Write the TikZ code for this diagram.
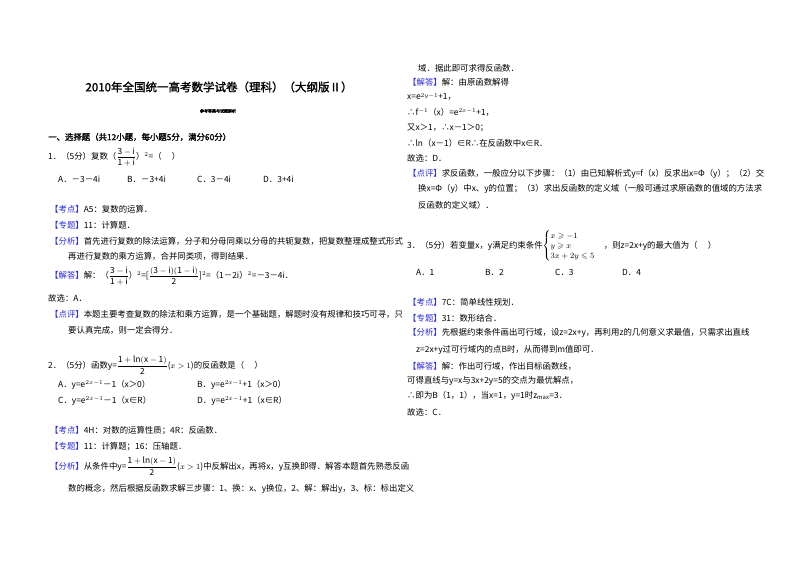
\documentclass[tikz,border=0pt]{standalone}
\usepackage{fontspec}
\usepackage{amsmath,amssymb}
\setmainfont{Noto Sans CJK SC}
\newfontfamily\cjkb[FakeBold=1.6]{Noto Sans CJK SC}
\definecolor{tagblue}{RGB}{40,40,230}
\newcommand\tg[1]{{\color{tagblue}【#1】}}
\newcommand\fr[2]{\ensuremath{\dfrac{\mathrm{#1}}{\mathrm{#2}}}}
\tikzset{ln/.style={anchor=west,inner sep=0pt,font=\fontsize{8.4}{10}\selectfont},
 ttl/.style={inner sep=0pt,font=\cjkb\fontsize{11.5}{13}\selectfont}}
\begin{document}
\begin{tikzpicture}[x=1pt,y=-1pt]
\useasboundingbox[fill=white] (0,0) rectangle (800,565);
% left column
\node[ttl] (t) at (219,87) {2010年全国统一高考数学试卷（理科）（大纲版Ⅱ）};
\node[inner sep=0pt,font=\cjkb\fontsize{4}{5}\selectfont] (st) at (218,111) {参考答案与试题解析};
\node[ln,font=\cjkb\fontsize{8.4}{10}\selectfont] (h1) at (48,137) {一、选择题（共12小题，每小题5分，满分60分）};
\node[ln] (q1) at (48,157) {1．（5分）复数（\fr{3-i}{1+i}）$^2$=（\quad\ ）};
\node[ln] (q1a) at (58,179) {A．－3－4i};
\node[ln] (q1b) at (127,179) {B．－3+4i};
\node[ln] (q1c) at (197,179) {C．3－4i};
\node[ln] (q1d) at (263,179) {D．3+4i};
\node[ln] (k1) at (50,209) {\tg{考点}A5：复数的运算．};
\node[ln] (z1) at (50,225) {\tg{专题}11：计算题．};
\node[ln] (f1) at (50,241) {\tg{分析}首先进行复数的除法运算，分子和分母同乘以分母的共轭复数，把复数整理成整式形式};
\node[ln] (f1b) at (68,256) {再进行复数的乘方运算，合并同类项，得到结果．};
\node[ln] (j1) at (50,276) {\tg{解答}解：（\fr{3-i}{1+i}）$^2$=[\fr{(3-i)(1-i)}{2}]$^2$=（1－2i）$^2$=－3－4i．};
\node[ln] (g1) at (48,298) {故选：A．};
\node[ln] (d1) at (50,314) {\tg{点评}本题主要考查复数的除法和乘方运算，是一个基础题，解题时没有规律和技巧可寻，只};
\node[ln] (d1b) at (68,330) {要认真完成，则一定会得分．};
\node[ln] (q2) at (48,365) {2．（5分）函数y=\fr{1+ln(x-1)}{2}($x>1$)的反函数是（\quad\ ）};
\node[ln] (q2a) at (58,385) {A．y=e$^{2x-1}$－1（x＞0）};
\node[ln] (q2b) at (197,385) {B．y=e$^{2x-1}$+1（x＞0）};
\node[ln] (q2c) at (58,401) {C．y=e$^{2x-1}$－1（x∈R）};
\node[ln] (q2d) at (197,401) {D．y=e$^{2x-1}$+1（x∈R）};
\node[ln] (k2) at (50,431) {\tg{考点}4H：对数的运算性质；4R：反函数．};
\node[ln] (z2) at (50,447) {\tg{专题}11：计算题；16：压轴题．};
\node[ln] (f2) at (50,466) {\tg{分析}从条件中y=\fr{1+ln(x-1)}{2}($x>1$)中反解出x，再将x，y互换即得．解答本题首先熟悉反函};
\node[ln] (f2b) at (68,489) {数的概念，然后根据反函数求解三步骤：1、换：x、y换位，2、解：解出y，3、标：标出定义};
% right column
\node[ln] (r1) at (418,68) {域．据此即可求得反函数．};
\node[ln] (r2) at (408,82) {\tg{解答}解：由原函数解得};
\node[ln] (r3) at (407,97) {x=e$^{2y-1}$+1，};
\node[ln] (r4) at (407,112) {∴f$^{-1}$（x）=e$^{2x-1}$+1，};
\node[ln] (r5) at (407,128) {又x＞1，∴x－1＞0；};
\node[ln] (r6) at (407,143) {∴ln（x－1）∈R∴在反函数中x∈R．};
\node[ln] (r7) at (407,158) {故选：D．};
\node[ln] (r8) at (408,174) {\tg{点评}求反函数，一般应分以下步骤：（1）由已知解析式y=f（x）反求出x=Φ（y）；（2）交};
\node[ln] (r9) at (418,189) {换x=Φ（y）中x、y的位置；（3）求出反函数的定义域（一般可通过求原函数的值域的方法求};
\node[ln] (r10) at (418,205) {反函数的定义域）．};
\node[ln] (q3) at (407,246) {3．（5分）若变量x，y满足约束条件$\left\{\begin{array}{@{}l@{}}x\geqslant-1\\ y\geqslant x\\ 3x+2y\leqslant5\end{array}\right.$\quad ，则z=2x+y的最大值为（\quad\ ）};
\node[ln] (q3a) at (416,272) {A．1};
\node[ln] (q3b) at (485,272) {B．2};
\node[ln] (q3c) at (555,272) {C．3};
\node[ln] (q3d) at (622,272) {D．4};
\node[ln] (k3) at (408,302) {\tg{考点}7C：简单线性规划．};
\node[ln] (z3) at (408,318) {\tg{专题}31：数形结合．};
\node[ln] (f3) at (408,333) {\tg{分析}先根据约束条件画出可行域，设z=2x+y，再利用z的几何意义求最值，只需求出直线};
\node[ln] (f3b) at (416,350) {z=2x+y过可行域内的点B时，从而得到m值即可．};
\node[ln] (j3) at (408,366) {\tg{解答}解：作出可行域，作出目标函数线，};
\node[ln] (j3b) at (407,381) {可得直线与y=x与3x+2y=5的交点为最优解点，};
\node[ln] (j3c) at (407,396) {∴即为B（1，1），当x=1，y=1时z$_{\max}$=3．};
\node[ln] (g3) at (407,412) {故选：C．};
\end{tikzpicture}
\end{document}
